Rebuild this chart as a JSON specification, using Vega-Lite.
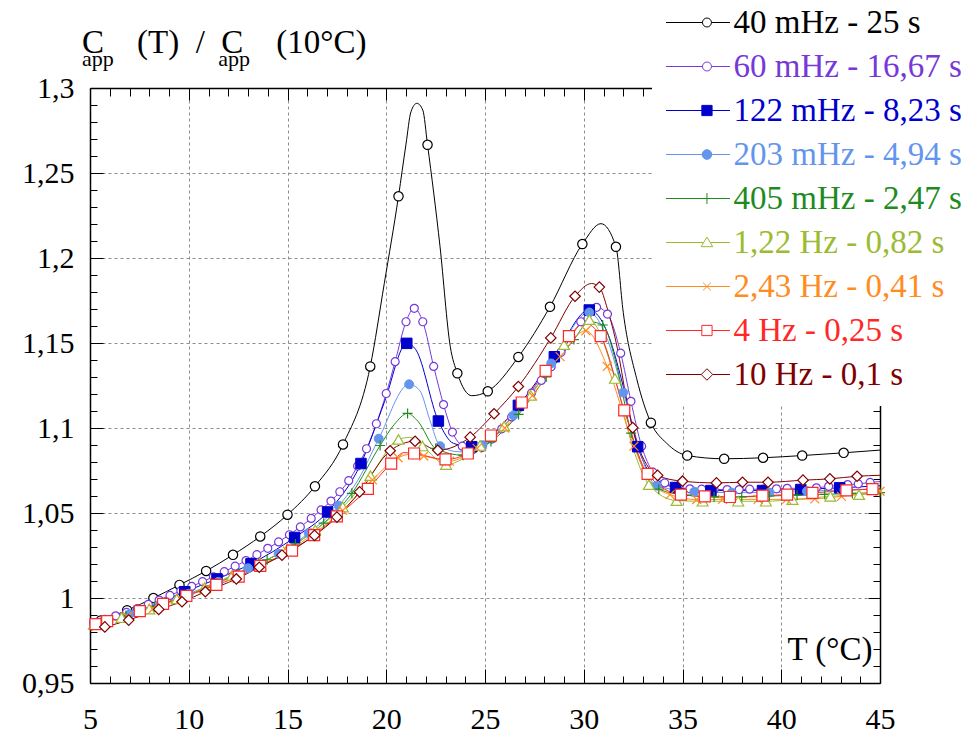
{
"$schema": "https://vega.github.io/schema/vega-lite/v6.json",
"width": 790, "height": 595,
"autosize": {"type": "none"},
"padding": {"left": 90, "top": 88, "right": 88, "bottom": 55},
"background": "white",
"config": {"view": {"stroke": null}, "font": "Liberation Serif", "legend": {"labelFont": "Liberation Serif"}},
"title": {
 "text": "C\u00a0\u00a0\u00a0\u00a0(T)\u00a0\u00a0/\u00a0\u00a0C\u00a0\u00a0\u00a0\u00a0(10°C)",
 "subtitle": "\u00a0\u00a0\u00a0\u00a0app\u00a0\u00a0\u00a0\u00a0\u00a0\u00a0\u00a0\u00a0\u00a0\u00a0\u00a0\u00a0\u00a0\u00a0\u00a0\u00a0\u00a0\u00a0\u00a0app",
 "anchor": "start", "frame": "group", "dx": -8, "offset": -78,
 "font": "Liberation Serif", "fontSize": 33, "fontWeight": "normal", "color": "black",
 "subtitleFont": "Liberation Serif", "subtitleFontSize": 22, "subtitleColor": "black", "subtitlePadding": -11
},
"data": {"values": [
{"s":"40 mHz - 25 s","T":5.0,"v":0.9848,"m":0},
{"s":"40 mHz - 25 s","T":5.55,"v":0.9868,"m":1},
{"s":"40 mHz - 25 s","T":6.88,"v":0.9928,"m":1},
{"s":"40 mHz - 25 s","T":8.21,"v":1.0,"m":1},
{"s":"40 mHz - 25 s","T":9.53,"v":1.0077,"m":1},
{"s":"40 mHz - 25 s","T":10.88,"v":1.0159,"m":1},
{"s":"40 mHz - 25 s","T":12.24,"v":1.0254,"m":1},
{"s":"40 mHz - 25 s","T":13.62,"v":1.0362,"m":1},
{"s":"40 mHz - 25 s","T":15.0,"v":1.049,"m":1},
{"s":"40 mHz - 25 s","T":16.39,"v":1.0657,"m":1},
{"s":"40 mHz - 25 s","T":17.81,"v":1.0903,"m":1},
{"s":"40 mHz - 25 s","T":19.19,"v":1.1362,"m":1},
{"s":"40 mHz - 25 s","T":19.9,"v":1.185,"m":0},
{"s":"40 mHz - 25 s","T":20.62,"v":1.2363,"m":1},
{"s":"40 mHz - 25 s","T":21.0,"v":1.267,"m":0},
{"s":"40 mHz - 25 s","T":21.25,"v":1.286,"m":0},
{"s":"40 mHz - 25 s","T":21.55,"v":1.291,"m":0},
{"s":"40 mHz - 25 s","T":21.85,"v":1.287,"m":0},
{"s":"40 mHz - 25 s","T":22.09,"v":1.2666,"m":1},
{"s":"40 mHz - 25 s","T":22.72,"v":1.207,"m":0},
{"s":"40 mHz - 25 s","T":23.24,"v":1.148,"m":0},
{"s":"40 mHz - 25 s","T":23.6,"v":1.1322,"m":1},
{"s":"40 mHz - 25 s","T":24.33,"v":1.119,"m":0},
{"s":"40 mHz - 25 s","T":25.14,"v":1.1216,"m":1},
{"s":"40 mHz - 25 s","T":26.69,"v":1.1418,"m":1},
{"s":"40 mHz - 25 s","T":28.29,"v":1.1713,"m":1},
{"s":"40 mHz - 25 s","T":29.93,"v":1.2082,"m":1},
{"s":"40 mHz - 25 s","T":30.87,"v":1.2202,"m":0},
{"s":"40 mHz - 25 s","T":31.63,"v":1.2066,"m":1},
{"s":"40 mHz - 25 s","T":32.0,"v":1.168,"m":0},
{"s":"40 mHz - 25 s","T":32.68,"v":1.129,"m":0},
{"s":"40 mHz - 25 s","T":33.4,"v":1.1031,"m":1},
{"s":"40 mHz - 25 s","T":34.2,"v":1.091,"m":0},
{"s":"40 mHz - 25 s","T":35.24,"v":1.0838,"m":1},
{"s":"40 mHz - 25 s","T":37.11,"v":1.0819,"m":1},
{"s":"40 mHz - 25 s","T":39.08,"v":1.0825,"m":1},
{"s":"40 mHz - 25 s","T":41.06,"v":1.0838,"m":1},
{"s":"40 mHz - 25 s","T":43.16,"v":1.0854,"m":1},
{"s":"40 mHz - 25 s","T":45.0,"v":1.087,"m":0},

{"s":"60 mHz - 16,67 s","T":5.0,"v":0.9848,"m":0},
{"s":"60 mHz - 16,67 s","T":5.2,"v":0.9855,"m":1},
{"s":"60 mHz - 16,67 s","T":5.75,"v":0.9875,"m":1},
{"s":"60 mHz - 16,67 s","T":6.3,"v":0.9895,"m":1},
{"s":"60 mHz - 16,67 s","T":6.85,"v":0.9915,"m":1},
{"s":"60 mHz - 16,67 s","T":7.4,"v":0.9938,"m":1},
{"s":"60 mHz - 16,67 s","T":7.95,"v":0.9962,"m":1},
{"s":"60 mHz - 16,67 s","T":8.5,"v":0.9988,"m":1},
{"s":"60 mHz - 16,67 s","T":9.05,"v":1.0015,"m":1},
{"s":"60 mHz - 16,67 s","T":9.6,"v":1.0042,"m":1},
{"s":"60 mHz - 16,67 s","T":10.15,"v":1.0068,"m":1},
{"s":"60 mHz - 16,67 s","T":10.7,"v":1.0096,"m":1},
{"s":"60 mHz - 16,67 s","T":11.25,"v":1.0125,"m":1},
{"s":"60 mHz - 16,67 s","T":11.8,"v":1.0155,"m":1},
{"s":"60 mHz - 16,67 s","T":12.35,"v":1.0187,"m":1},
{"s":"60 mHz - 16,67 s","T":12.9,"v":1.022,"m":1},
{"s":"60 mHz - 16,67 s","T":13.45,"v":1.0255,"m":1},
{"s":"60 mHz - 16,67 s","T":14.0,"v":1.0292,"m":1},
{"s":"60 mHz - 16,67 s","T":14.55,"v":1.033,"m":1},
{"s":"60 mHz - 16,67 s","T":15.1,"v":1.0372,"m":1},
{"s":"60 mHz - 16,67 s","T":15.65,"v":1.0418,"m":1},
{"s":"60 mHz - 16,67 s","T":16.2,"v":1.0468,"m":1},
{"s":"60 mHz - 16,67 s","T":16.7,"v":1.0518,"m":1},
{"s":"60 mHz - 16,67 s","T":17.2,"v":1.057,"m":1},
{"s":"60 mHz - 16,67 s","T":17.65,"v":1.0625,"m":1},
{"s":"60 mHz - 16,67 s","T":18.1,"v":1.069,"m":1},
{"s":"60 mHz - 16,67 s","T":18.55,"v":1.0776,"m":1},
{"s":"60 mHz - 16,67 s","T":19.0,"v":1.0878,"m":1},
{"s":"60 mHz - 16,67 s","T":19.5,"v":1.1025,"m":1},
{"s":"60 mHz - 16,67 s","T":20.0,"v":1.1203,"m":1},
{"s":"60 mHz - 16,67 s","T":20.45,"v":1.139,"m":1},
{"s":"60 mHz - 16,67 s","T":21.0,"v":1.1625,"m":1},
{"s":"60 mHz - 16,67 s","T":21.42,"v":1.1704,"m":1},
{"s":"60 mHz - 16,67 s","T":21.85,"v":1.1625,"m":1},
{"s":"60 mHz - 16,67 s","T":22.4,"v":1.1362,"m":1},
{"s":"60 mHz - 16,67 s","T":22.9,"v":1.1138,"m":1},
{"s":"60 mHz - 16,67 s","T":23.35,"v":1.0976,"m":1},
{"s":"60 mHz - 16,67 s","T":23.85,"v":1.0893,"m":1},
{"s":"60 mHz - 16,67 s","T":24.35,"v":1.087,"m":1},
{"s":"60 mHz - 16,67 s","T":24.85,"v":1.0885,"m":1},
{"s":"60 mHz - 16,67 s","T":25.35,"v":1.0935,"m":1},
{"s":"60 mHz - 16,67 s","T":25.85,"v":1.0995,"m":1},
{"s":"60 mHz - 16,67 s","T":26.35,"v":1.1065,"m":1},
{"s":"60 mHz - 16,67 s","T":26.85,"v":1.1135,"m":1},
{"s":"60 mHz - 16,67 s","T":27.35,"v":1.1205,"m":1},
{"s":"60 mHz - 16,67 s","T":27.85,"v":1.128,"m":1},
{"s":"60 mHz - 16,67 s","T":28.35,"v":1.136,"m":1},
{"s":"60 mHz - 16,67 s","T":28.85,"v":1.1445,"m":1},
{"s":"60 mHz - 16,67 s","T":29.35,"v":1.1535,"m":1},
{"s":"60 mHz - 16,67 s","T":29.85,"v":1.1625,"m":1},
{"s":"60 mHz - 16,67 s","T":30.3,"v":1.169,"m":1},
{"s":"60 mHz - 16,67 s","T":30.65,"v":1.171,"m":1},
{"s":"60 mHz - 16,67 s","T":31.2,"v":1.167,"m":1},
{"s":"60 mHz - 16,67 s","T":31.87,"v":1.144,"m":1},
{"s":"60 mHz - 16,67 s","T":32.39,"v":1.1157,"m":1},
{"s":"60 mHz - 16,67 s","T":32.93,"v":1.0893,"m":1},
{"s":"60 mHz - 16,67 s","T":33.5,"v":1.074,"m":1},
{"s":"60 mHz - 16,67 s","T":34.1,"v":1.0677,"m":1},
{"s":"60 mHz - 16,67 s","T":34.7,"v":1.0655,"m":1},
{"s":"60 mHz - 16,67 s","T":35.37,"v":1.0642,"m":1},
{"s":"60 mHz - 16,67 s","T":35.97,"v":1.064,"m":1},
{"s":"60 mHz - 16,67 s","T":36.6,"v":1.0638,"m":1},
{"s":"60 mHz - 16,67 s","T":37.26,"v":1.0638,"m":1},
{"s":"60 mHz - 16,67 s","T":37.87,"v":1.0638,"m":1},
{"s":"60 mHz - 16,67 s","T":38.4,"v":1.064,"m":1},
{"s":"60 mHz - 16,67 s","T":39.1,"v":1.064,"m":1},
{"s":"60 mHz - 16,67 s","T":39.76,"v":1.0642,"m":1},
{"s":"60 mHz - 16,67 s","T":40.3,"v":1.0645,"m":1},
{"s":"60 mHz - 16,67 s","T":41.0,"v":1.0646,"m":1},
{"s":"60 mHz - 16,67 s","T":41.78,"v":1.0648,"m":1},
{"s":"60 mHz - 16,67 s","T":42.4,"v":1.0657,"m":1},
{"s":"60 mHz - 16,67 s","T":43.36,"v":1.0667,"m":1},
{"s":"60 mHz - 16,67 s","T":43.9,"v":1.0671,"m":1},
{"s":"60 mHz - 16,67 s","T":44.5,"v":1.068,"m":1},
{"s":"60 mHz - 16,67 s","T":45.0,"v":1.0685,"m":0},

{"s":"122 mHz - 8,23 s","T":5.0,"v":0.9838,"m":0},
{"s":"122 mHz - 8,23 s","T":5.28,"v":0.9846,"m":1},
{"s":"122 mHz - 8,23 s","T":7.52,"v":0.9925,"m":1},
{"s":"122 mHz - 8,23 s","T":9.8,"v":1.0037,"m":1},
{"s":"122 mHz - 8,23 s","T":11.43,"v":1.0112,"m":1},
{"s":"122 mHz - 8,23 s","T":13.15,"v":1.0201,"m":1},
{"s":"122 mHz - 8,23 s","T":15.36,"v":1.0356,"m":1},
{"s":"122 mHz - 8,23 s","T":17.03,"v":1.0506,"m":1},
{"s":"122 mHz - 8,23 s","T":18.72,"v":1.0791,"m":1},
{"s":"122 mHz - 8,23 s","T":19.9,"v":1.115,"m":0},
{"s":"122 mHz - 8,23 s","T":21.04,"v":1.1498,"m":1},
{"s":"122 mHz - 8,23 s","T":21.5,"v":1.146,"m":0},
{"s":"122 mHz - 8,23 s","T":22.64,"v":1.1041,"m":1},
{"s":"122 mHz - 8,23 s","T":23.4,"v":1.091,"m":0},
{"s":"122 mHz - 8,23 s","T":24.33,"v":1.089,"m":1},
{"s":"122 mHz - 8,23 s","T":26.69,"v":1.1133,"m":1},
{"s":"122 mHz - 8,23 s","T":28.51,"v":1.1419,"m":1},
{"s":"122 mHz - 8,23 s","T":30.28,"v":1.1694,"m":1},
{"s":"122 mHz - 8,23 s","T":31.3,"v":1.153,"m":0},
{"s":"122 mHz - 8,23 s","T":31.9,"v":1.129,"m":0},
{"s":"122 mHz - 8,23 s","T":32.73,"v":1.089,"m":1},
{"s":"122 mHz - 8,23 s","T":33.4,"v":1.073,"m":0},
{"s":"122 mHz - 8,23 s","T":34.65,"v":1.065,"m":1},
{"s":"122 mHz - 8,23 s","T":36.44,"v":1.0632,"m":1},
{"s":"122 mHz - 8,23 s","T":39.05,"v":1.0632,"m":1},
{"s":"122 mHz - 8,23 s","T":40.99,"v":1.0638,"m":1},
{"s":"122 mHz - 8,23 s","T":42.96,"v":1.0648,"m":1},
{"s":"122 mHz - 8,23 s","T":45.0,"v":1.066,"m":0},

{"s":"203 mHz - 4,94 s","T":5.0,"v":0.9842,"m":0},
{"s":"203 mHz - 4,94 s","T":5.5,"v":0.9855,"m":1},
{"s":"203 mHz - 4,94 s","T":7.0,"v":0.9905,"m":1},
{"s":"203 mHz - 4,94 s","T":8.5,"v":0.996,"m":1},
{"s":"203 mHz - 4,94 s","T":10.0,"v":1.0025,"m":1},
{"s":"203 mHz - 4,94 s","T":11.5,"v":1.0095,"m":1},
{"s":"203 mHz - 4,94 s","T":13.0,"v":1.0175,"m":1},
{"s":"203 mHz - 4,94 s","T":14.55,"v":1.026,"m":1},
{"s":"203 mHz - 4,94 s","T":16.07,"v":1.0382,"m":1},
{"s":"203 mHz - 4,94 s","T":17.59,"v":1.0543,"m":1},
{"s":"203 mHz - 4,94 s","T":18.6,"v":1.07,"m":0},
{"s":"203 mHz - 4,94 s","T":19.62,"v":1.0937,"m":1},
{"s":"203 mHz - 4,94 s","T":21.16,"v":1.1257,"m":1},
{"s":"203 mHz - 4,94 s","T":21.7,"v":1.122,"m":0},
{"s":"203 mHz - 4,94 s","T":22.2,"v":1.105,"m":0},
{"s":"203 mHz - 4,94 s","T":22.73,"v":1.0893,"m":1},
{"s":"203 mHz - 4,94 s","T":23.7,"v":1.086,"m":0},
{"s":"203 mHz - 4,94 s","T":24.87,"v":1.0899,"m":1},
{"s":"203 mHz - 4,94 s","T":26.44,"v":1.1074,"m":1},
{"s":"203 mHz - 4,94 s","T":28.35,"v":1.138,"m":1},
{"s":"203 mHz - 4,94 s","T":30.28,"v":1.168,"m":1},
{"s":"203 mHz - 4,94 s","T":31.2,"v":1.152,"m":0},
{"s":"203 mHz - 4,94 s","T":32.0,"v":1.1209,"m":1},
{"s":"203 mHz - 4,94 s","T":33.69,"v":1.0661,"m":1},
{"s":"203 mHz - 4,94 s","T":35.6,"v":1.0625,"m":1},
{"s":"203 mHz - 4,94 s","T":37.5,"v":1.062,"m":1},
{"s":"203 mHz - 4,94 s","T":39.4,"v":1.062,"m":1},
{"s":"203 mHz - 4,94 s","T":41.3,"v":1.0628,"m":1},
{"s":"203 mHz - 4,94 s","T":43.2,"v":1.0636,"m":1},
{"s":"203 mHz - 4,94 s","T":45.0,"v":1.0642,"m":0},

{"s":"405 mHz - 2,47 s","T":5.0,"v":0.984,"m":0},
{"s":"405 mHz - 2,47 s","T":5.39,"v":0.985,"m":1},
{"s":"405 mHz - 2,47 s","T":6.82,"v":0.9895,"m":1},
{"s":"405 mHz - 2,47 s","T":8.25,"v":0.9948,"m":1},
{"s":"405 mHz - 2,47 s","T":9.68,"v":1.0008,"m":1},
{"s":"405 mHz - 2,47 s","T":11.11,"v":1.0072,"m":1},
{"s":"405 mHz - 2,47 s","T":12.54,"v":1.0145,"m":1},
{"s":"405 mHz - 2,47 s","T":13.97,"v":1.0225,"m":1},
{"s":"405 mHz - 2,47 s","T":15.4,"v":1.0318,"m":1},
{"s":"405 mHz - 2,47 s","T":16.83,"v":1.044,"m":1},
{"s":"405 mHz - 2,47 s","T":18.26,"v":1.0616,"m":1},
{"s":"405 mHz - 2,47 s","T":19.69,"v":1.0897,"m":1},
{"s":"405 mHz - 2,47 s","T":20.4,"v":1.102,"m":0},
{"s":"405 mHz - 2,47 s","T":21.08,"v":1.1086,"m":1},
{"s":"405 mHz - 2,47 s","T":21.6,"v":1.104,"m":0},
{"s":"405 mHz - 2,47 s","T":22.5,"v":1.088,"m":1},
{"s":"405 mHz - 2,47 s","T":23.9,"v":1.084,"m":1},
{"s":"405 mHz - 2,47 s","T":25.3,"v":1.092,"m":1},
{"s":"405 mHz - 2,47 s","T":26.7,"v":1.108,"m":1},
{"s":"405 mHz - 2,47 s","T":28.1,"v":1.13,"m":1},
{"s":"405 mHz - 2,47 s","T":29.5,"v":1.152,"m":1},
{"s":"405 mHz - 2,47 s","T":30.3,"v":1.1625,"m":0},
{"s":"405 mHz - 2,47 s","T":30.96,"v":1.1606,"m":1},
{"s":"405 mHz - 2,47 s","T":31.6,"v":1.14,"m":0},
{"s":"405 mHz - 2,47 s","T":32.4,"v":1.097,"m":1},
{"s":"405 mHz - 2,47 s","T":33.8,"v":1.064,"m":1},
{"s":"405 mHz - 2,47 s","T":35.2,"v":1.0605,"m":1},
{"s":"405 mHz - 2,47 s","T":36.6,"v":1.0595,"m":1},
{"s":"405 mHz - 2,47 s","T":38.0,"v":1.0595,"m":1},
{"s":"405 mHz - 2,47 s","T":39.4,"v":1.06,"m":1},
{"s":"405 mHz - 2,47 s","T":40.8,"v":1.0605,"m":1},
{"s":"405 mHz - 2,47 s","T":42.2,"v":1.061,"m":1},
{"s":"405 mHz - 2,47 s","T":43.6,"v":1.0615,"m":1},
{"s":"405 mHz - 2,47 s","T":45.0,"v":1.062,"m":1},

{"s":"1,22 Hz - 0,82 s","T":5.0,"v":0.9838,"m":0},
{"s":"1,22 Hz - 0,82 s","T":5.2,"v":0.9845,"m":1},
{"s":"1,22 Hz - 0,82 s","T":6.6,"v":0.9885,"m":1},
{"s":"1,22 Hz - 0,82 s","T":8.0,"v":0.9935,"m":1},
{"s":"1,22 Hz - 0,82 s","T":9.4,"v":0.9995,"m":1},
{"s":"1,22 Hz - 0,82 s","T":10.8,"v":1.006,"m":1},
{"s":"1,22 Hz - 0,82 s","T":12.2,"v":1.0133,"m":1},
{"s":"1,22 Hz - 0,82 s","T":13.6,"v":1.0205,"m":1},
{"s":"1,22 Hz - 0,82 s","T":15.0,"v":1.029,"m":1},
{"s":"1,22 Hz - 0,82 s","T":16.4,"v":1.04,"m":1},
{"s":"1,22 Hz - 0,82 s","T":17.8,"v":1.0535,"m":1},
{"s":"1,22 Hz - 0,82 s","T":19.2,"v":1.072,"m":1},
{"s":"1,22 Hz - 0,82 s","T":20.62,"v":1.0933,"m":1},
{"s":"1,22 Hz - 0,82 s","T":21.2,"v":1.0945,"m":0},
{"s":"1,22 Hz - 0,82 s","T":21.83,"v":1.0894,"m":1},
{"s":"1,22 Hz - 0,82 s","T":23.03,"v":1.0785,"m":1},
{"s":"1,22 Hz - 0,82 s","T":23.9,"v":1.082,"m":0},
{"s":"1,22 Hz - 0,82 s","T":24.75,"v":1.0897,"m":1},
{"s":"1,22 Hz - 0,82 s","T":25.97,"v":1.1011,"m":1},
{"s":"1,22 Hz - 0,82 s","T":27.32,"v":1.1192,"m":1},
{"s":"1,22 Hz - 0,82 s","T":29.0,"v":1.149,"m":1},
{"s":"1,22 Hz - 0,82 s","T":30.28,"v":1.1637,"m":1},
{"s":"1,22 Hz - 0,82 s","T":31.58,"v":1.1291,"m":1},
{"s":"1,22 Hz - 0,82 s","T":32.5,"v":1.088,"m":0},
{"s":"1,22 Hz - 0,82 s","T":33.3,"v":1.0667,"m":1},
{"s":"1,22 Hz - 0,82 s","T":34.7,"v":1.0573,"m":1},
{"s":"1,22 Hz - 0,82 s","T":36.02,"v":1.0569,"m":1},
{"s":"1,22 Hz - 0,82 s","T":37.82,"v":1.0569,"m":1},
{"s":"1,22 Hz - 0,82 s","T":39.22,"v":1.0569,"m":1},
{"s":"1,22 Hz - 0,82 s","T":40.57,"v":1.0579,"m":1},
{"s":"1,22 Hz - 0,82 s","T":42.49,"v":1.0598,"m":1},
{"s":"1,22 Hz - 0,82 s","T":43.94,"v":1.0608,"m":1},
{"s":"1,22 Hz - 0,82 s","T":45.0,"v":1.0615,"m":0},

{"s":"2,43 Hz - 0,41 s","T":5.0,"v":0.9838,"m":0},
{"s":"2,43 Hz - 0,41 s","T":5.5,"v":0.9848,"m":1},
{"s":"2,43 Hz - 0,41 s","T":6.9,"v":0.989,"m":1},
{"s":"2,43 Hz - 0,41 s","T":8.2,"v":0.9938,"m":1},
{"s":"2,43 Hz - 0,41 s","T":9.6,"v":0.9995,"m":1},
{"s":"2,43 Hz - 0,41 s","T":10.9,"v":1.0058,"m":1},
{"s":"2,43 Hz - 0,41 s","T":12.3,"v":1.0128,"m":1},
{"s":"2,43 Hz - 0,41 s","T":13.7,"v":1.0195,"m":1},
{"s":"2,43 Hz - 0,41 s","T":15.0,"v":1.0275,"m":1},
{"s":"2,43 Hz - 0,41 s","T":16.4,"v":1.0385,"m":1},
{"s":"2,43 Hz - 0,41 s","T":17.8,"v":1.0515,"m":1},
{"s":"2,43 Hz - 0,41 s","T":19.3,"v":1.0695,"m":1},
{"s":"2,43 Hz - 0,41 s","T":20.6,"v":1.0825,"m":1},
{"s":"2,43 Hz - 0,41 s","T":21.2,"v":1.0845,"m":0},
{"s":"2,43 Hz - 0,41 s","T":21.9,"v":1.0835,"m":1},
{"s":"2,43 Hz - 0,41 s","T":23.2,"v":1.0805,"m":1},
{"s":"2,43 Hz - 0,41 s","T":24.6,"v":1.088,"m":1},
{"s":"2,43 Hz - 0,41 s","T":26.0,"v":1.1,"m":1},
{"s":"2,43 Hz - 0,41 s","T":27.4,"v":1.119,"m":1},
{"s":"2,43 Hz - 0,41 s","T":28.8,"v":1.142,"m":1},
{"s":"2,43 Hz - 0,41 s","T":30.11,"v":1.1572,"m":1},
{"s":"2,43 Hz - 0,41 s","T":31.19,"v":1.1362,"m":1},
{"s":"2,43 Hz - 0,41 s","T":32.54,"v":1.0893,"m":1},
{"s":"2,43 Hz - 0,41 s","T":33.4,"v":1.068,"m":0},
{"s":"2,43 Hz - 0,41 s","T":34.37,"v":1.0608,"m":1},
{"s":"2,43 Hz - 0,41 s","T":35.72,"v":1.0579,"m":1},
{"s":"2,43 Hz - 0,41 s","T":37.03,"v":1.058,"m":1},
{"s":"2,43 Hz - 0,41 s","T":38.83,"v":1.058,"m":1},
{"s":"2,43 Hz - 0,41 s","T":40.27,"v":1.058,"m":1},
{"s":"2,43 Hz - 0,41 s","T":41.7,"v":1.0583,"m":1},
{"s":"2,43 Hz - 0,41 s","T":43.05,"v":1.0598,"m":1},
{"s":"2,43 Hz - 0,41 s","T":45.0,"v":1.0628,"m":1},

{"s":"4 Hz - 0,25 s","T":5.0,"v":0.9836,"m":0},
{"s":"4 Hz - 0,25 s","T":5.28,"v":0.9846,"m":1},
{"s":"4 Hz - 0,25 s","T":5.87,"v":0.9864,"m":1},
{"s":"4 Hz - 0,25 s","T":7.52,"v":0.9923,"m":1},
{"s":"4 Hz - 0,25 s","T":8.7,"v":0.9965,"m":1},
{"s":"4 Hz - 0,25 s","T":9.88,"v":1.0012,"m":1},
{"s":"4 Hz - 0,25 s","T":11.4,"v":1.0077,"m":1},
{"s":"4 Hz - 0,25 s","T":12.53,"v":1.0126,"m":1},
{"s":"4 Hz - 0,25 s","T":13.62,"v":1.0189,"m":1},
{"s":"4 Hz - 0,25 s","T":15.23,"v":1.0279,"m":1},
{"s":"4 Hz - 0,25 s","T":16.35,"v":1.037,"m":1},
{"s":"4 Hz - 0,25 s","T":17.5,"v":1.048,"m":1},
{"s":"4 Hz - 0,25 s","T":19.07,"v":1.0642,"m":1},
{"s":"4 Hz - 0,25 s","T":20.25,"v":1.0791,"m":1},
{"s":"4 Hz - 0,25 s","T":20.9,"v":1.0855,"m":0},
{"s":"4 Hz - 0,25 s","T":21.41,"v":1.085,"m":1},
{"s":"4 Hz - 0,25 s","T":23.0,"v":1.0815,"m":1},
{"s":"4 Hz - 0,25 s","T":24.13,"v":1.085,"m":1},
{"s":"4 Hz - 0,25 s","T":25.3,"v":1.0956,"m":1},
{"s":"4 Hz - 0,25 s","T":26.86,"v":1.115,"m":1},
{"s":"4 Hz - 0,25 s","T":28.07,"v":1.1336,"m":1},
{"s":"4 Hz - 0,25 s","T":29.25,"v":1.154,"m":1},
{"s":"4 Hz - 0,25 s","T":30.05,"v":1.1615,"m":0},
{"s":"4 Hz - 0,25 s","T":30.86,"v":1.154,"m":1},
{"s":"4 Hz - 0,25 s","T":32.05,"v":1.1104,"m":1},
{"s":"4 Hz - 0,25 s","T":33.23,"v":1.073,"m":1},
{"s":"4 Hz - 0,25 s","T":34.92,"v":1.0608,"m":1},
{"s":"4 Hz - 0,25 s","T":36.13,"v":1.0598,"m":1},
{"s":"4 Hz - 0,25 s","T":37.4,"v":1.0594,"m":1},
{"s":"4 Hz - 0,25 s","T":39.05,"v":1.0602,"m":1},
{"s":"4 Hz - 0,25 s","T":40.3,"v":1.0608,"m":1},
{"s":"4 Hz - 0,25 s","T":41.58,"v":1.0618,"m":1},
{"s":"4 Hz - 0,25 s","T":43.3,"v":1.0633,"m":1},
{"s":"4 Hz - 0,25 s","T":44.62,"v":1.0641,"m":1},
{"s":"4 Hz - 0,25 s","T":45.0,"v":1.0643,"m":0},

{"s":"10 Hz - 0,1 s","T":5.0,"v":0.981,"m":0},
{"s":"10 Hz - 0,1 s","T":5.75,"v":0.983,"m":1},
{"s":"10 Hz - 0,1 s","T":6.96,"v":0.987,"m":1},
{"s":"10 Hz - 0,1 s","T":8.48,"v":0.9933,"m":1},
{"s":"10 Hz - 0,1 s","T":9.66,"v":0.9978,"m":1},
{"s":"10 Hz - 0,1 s","T":10.84,"v":1.0037,"m":1},
{"s":"10 Hz - 0,1 s","T":12.41,"v":1.0112,"m":1},
{"s":"10 Hz - 0,1 s","T":13.57,"v":1.0181,"m":1},
{"s":"10 Hz - 0,1 s","T":14.72,"v":1.0252,"m":1},
{"s":"10 Hz - 0,1 s","T":16.37,"v":1.0368,"m":1},
{"s":"10 Hz - 0,1 s","T":17.5,"v":1.0476,"m":1},
{"s":"10 Hz - 0,1 s","T":18.65,"v":1.0624,"m":1},
{"s":"10 Hz - 0,1 s","T":20.2,"v":1.0866,"m":1},
{"s":"10 Hz - 0,1 s","T":21.46,"v":1.0922,"m":1},
{"s":"10 Hz - 0,1 s","T":22.61,"v":1.0869,"m":1},
{"s":"10 Hz - 0,1 s","T":24.25,"v":1.0946,"m":1},
{"s":"10 Hz - 0,1 s","T":25.46,"v":1.1084,"m":1},
{"s":"10 Hz - 0,1 s","T":26.69,"v":1.1244,"m":1},
{"s":"10 Hz - 0,1 s","T":28.33,"v":1.153,"m":1},
{"s":"10 Hz - 0,1 s","T":29.56,"v":1.1775,"m":1},
{"s":"10 Hz - 0,1 s","T":30.4,"v":1.185,"m":0},
{"s":"10 Hz - 0,1 s","T":30.79,"v":1.1829,"m":1},
{"s":"10 Hz - 0,1 s","T":31.2,"v":1.17,"m":0},
{"s":"10 Hz - 0,1 s","T":31.7,"v":1.147,"m":0},
{"s":"10 Hz - 0,1 s","T":32.15,"v":1.118,"m":0},
{"s":"10 Hz - 0,1 s","T":32.48,"v":1.1002,"m":1},
{"s":"10 Hz - 0,1 s","T":33.74,"v":1.0721,"m":1},
{"s":"10 Hz - 0,1 s","T":35.0,"v":1.0687,"m":1},
{"s":"10 Hz - 0,1 s","T":36.72,"v":1.0677,"m":1},
{"s":"10 Hz - 0,1 s","T":38.04,"v":1.0681,"m":1},
{"s":"10 Hz - 0,1 s","T":39.33,"v":1.0681,"m":1},
{"s":"10 Hz - 0,1 s","T":41.1,"v":1.0693,"m":1},
{"s":"10 Hz - 0,1 s","T":42.46,"v":1.0701,"m":1},
{"s":"10 Hz - 0,1 s","T":43.84,"v":1.0716,"m":1},
{"s":"10 Hz - 0,1 s","T":45.0,"v":1.0722,"m":0}
]},
"layer": [
{
 "mark": {"type": "line", "interpolate": "monotone", "strokeWidth": 1},
 "encoding": {
  "x": {"field": "T", "type": "quantitative",
   "scale": {"domain": [5, 45], "nice": false, "zero": false},
   "axis": {
    "orient": "bottom", "title": "T (°C)",
    "values": [5,6,7,8,9,10,11,12,13,14,15,16,17,18,19,20,21,22,23,24,25,26,27,28,29,30,31,32,33,34,35,36,37,38,39,40,41,42,43,44,45],
    "domain": true, "domainColor": "black", "domainWidth": 1.5,
    "ticks": true, "tickColor": "black", "tickWidth": 1,
    "tickSize": {"condition": {"test": "datum.value % 5 == 0", "value": -14}, "value": -7},
    "labelExpr": "datum.value % 5 == 0 ? datum.label : ''",
    "labelFont": "Liberation Serif", "labelFontSize": 30, "labelColor": "black", "labelPadding": 35,
    "labelFlush": false, "labelOverlap": false,
    "grid": true, "gridColor": "#8c8c8c", "gridDash": [3, 3], "gridWidth": 1,
    "gridOpacity": {"condition": {"test": "datum.value % 5 == 0 && datum.value > 5 && datum.value < 45", "value": 1}, "value": 0},
    "titleFont": "Liberation Serif", "titleFontSize": 33, "titleFontWeight": "normal", "titleColor": "black",
    "titleX": 782, "titleY": -24, "titleAlign": "right", "titleBaseline": "alphabetic", "titleAnchor": null
   }
  },
  "y": {"field": "v", "type": "quantitative",
   "scale": {"domain": [0.95, 1.3], "nice": false, "zero": false},
   "axis": {
    "orient": "left", "title": null,
    "values": [0.95,0.96,0.97,0.98,0.99,1,1.01,1.02,1.03,1.04,1.05,1.06,1.07,1.08,1.09,1.1,1.11,1.12,1.13,1.14,1.15,1.16,1.17,1.18,1.19,1.2,1.21,1.22,1.23,1.24,1.25,1.26,1.27,1.28,1.29,1.3],
    "domain": true, "domainColor": "black", "domainWidth": 1.5,
    "ticks": true, "tickColor": "black", "tickWidth": 1,
    "tickSize": {"condition": {"test": "abs(round(datum.value*100) % 5) == 0", "value": -13}, "value": -7},
    "labelExpr": "abs(round(datum.value*100) % 5) == 0 ? replace(format(datum.value, '.2~f'), '.', ',') : ''",
    "labelFont": "Liberation Serif", "labelFontSize": 30, "labelColor": "black", "labelPadding": 29,
    "labelFlush": false, "labelOverlap": false,
    "grid": true, "gridColor": "#8c8c8c", "gridDash": [3, 3], "gridWidth": 1,
    "gridOpacity": {"condition": {"test": "abs(round(datum.value*100) % 5) == 0 && datum.value > 0.96 && datum.value < 1.29", "value": 1}, "value": 0}
   }
  },
  "color": {"field": "s", "type": "nominal",
   "scale": {"domain": ["40 mHz - 25 s","60 mHz - 16,67 s","122 mHz - 8,23 s","203 mHz - 4,94 s","405 mHz - 2,47 s","1,22 Hz - 0,82 s","2,43 Hz - 0,41 s","4 Hz - 0,25 s","10 Hz - 0,1 s"],
    "range": ["#000000","#7638D8","#0000CD","#6495ED","#1E8B1E","#9BBB33","#FF8C1F","#FF2828","#800000"]},
   "legend": {
    "orient": "none", "legendX": 562, "legendY": -96, "title": null,
    "fillColor": "white", "padding": 14, "symbolSize": 1024, "rowPadding": 10,
    "labelFont": "Liberation Serif", "labelFontSize": 33, "labelOffset": 19, "symbolOffset": 15.5, "labelLimit": 0,
    "symbolStrokeWidth": 1,
    "encode": {
     "symbols": {"update": {
      "shape": {"signal": "['M-2,0H0.28M0.84,0H2M0.84,0A0.28,0.28,0,1,1,0.28,0A0.28,0.28,0,1,1,0.84,0Z','M-2,0H0.28M0.84,0H2M0.84,0A0.28,0.28,0,1,1,0.28,0A0.28,0.28,0,1,1,0.84,0Z','M-2,0H2M0.24,-0.32H0.88V0.32H0.24Z','M-2,0H2M0.86,0A0.3,0.3,0,1,1,0.26,0A0.3,0.3,0,1,1,0.86,0Z','M-2,0H2M0.56,-0.34V0.34','M-2,0H0.36M0.76,0H2M0.56,-0.34L0.92,0.26H0.2Z','M-2,0H2M0.32,-0.24L0.8,0.24M0.32,0.24L0.8,-0.24','M-2,0H0.24M0.88,0H2M0.24,-0.32H0.88V0.32H0.24Z','M-2,0H0.2M0.92,0H2M0.56,-0.36L0.92,0L0.56,0.36L0.2,0Z'][indexof(['40 mHz - 25 s','60 mHz - 16,67 s','122 mHz - 8,23 s','203 mHz - 4,94 s','405 mHz - 2,47 s','1,22 Hz - 0,82 s','2,43 Hz - 0,41 s','4 Hz - 0,25 s','10 Hz - 0,1 s'], datum.value)]"},
      "size": {"value": 1024},
      "fill": {"signal": "['white','white','#0000CD','#6495ED','white','white','white','white','white'][indexof(['40 mHz - 25 s','60 mHz - 16,67 s','122 mHz - 8,23 s','203 mHz - 4,94 s','405 mHz - 2,47 s','1,22 Hz - 0,82 s','2,43 Hz - 0,41 s','4 Hz - 0,25 s','10 Hz - 0,1 s'], datum.value)]"},
      "stroke": {"signal": "scale('color', datum.value)"},
      "strokeWidth": {"value": 1},
      "opacity": {"value": 1}
     }},
     "labels": {"update": {"fill": {"signal": "scale('color', datum.value)"}, "font": {"value": "Liberation Serif"}, "fontSize": {"value": 33}}}
    }
   }
  }
 }
},
{
 "transform": [{"filter": "datum.m == 1"}],
 "encoding": {
  "x": {"field": "T", "type": "quantitative",
   "axis": {
    "orient": "top", "title": null, "labels": false, "grid": false,
    "values": [5,6,7,8,9,10,11,12,13,14,15,16,17,18,19,20,21,22,23,24,25,26,27,28,29,30,31,32,33,34,35,36,37,38,39,40,41,42,43,44,45],
    "domain": true, "domainColor": "black", "domainWidth": 1.5,
    "ticks": true, "tickColor": "black", "tickWidth": 1,
    "tickSize": {"condition": {"test": "datum.value % 5 == 0", "value": -12}, "value": -8}
   }
  },
  "y": {"field": "v", "type": "quantitative",
   "axis": {
    "orient": "right", "title": null, "labels": false, "grid": false,
    "values": [0.95,0.96,0.97,0.98,0.99,1,1.01,1.02,1.03,1.04,1.05,1.06,1.07,1.08,1.09,1.1,1.11,1.12,1.13,1.14,1.15,1.16,1.17,1.18,1.19,1.2,1.21,1.22,1.23,1.24,1.25,1.26,1.27,1.28,1.29,1.3],
    "domain": true, "domainColor": "black", "domainWidth": 1.5,
    "ticks": true, "tickColor": "black", "tickWidth": 1,
    "tickSize": {"condition": {"test": "abs(round(datum.value*100) % 5) == 0", "value": -12}, "value": -7}
   }
  }
 },
 "layer": [
  {"transform": [{"filter": "datum.s == '40 mHz - 25 s'"}], "mark": {"type": "point", "shape": "circle", "size": 87, "filled": true, "fill": "white", "stroke": "#000000", "strokeWidth": 1.2, "opacity": 1}},
  {"transform": [{"filter": "datum.s == '60 mHz - 16,67 s'"}], "mark": {"type": "point", "shape": "circle", "size": 64, "filled": true, "fill": "white", "stroke": "#7638D8", "strokeWidth": 1.2, "opacity": 1}},
  {"transform": [{"filter": "datum.s == '122 mHz - 8,23 s'"}], "mark": {"type": "point", "shape": "square", "size": 110, "filled": true, "fill": "#0000CD", "stroke": "#0000CD", "strokeWidth": 1, "opacity": 1}},
  {"transform": [{"filter": "datum.s == '203 mHz - 4,94 s'"}], "mark": {"type": "point", "shape": "circle", "size": 80, "filled": true, "fill": "#6495ED", "stroke": "#6495ED", "strokeWidth": 1, "opacity": 1}},
  {"transform": [{"filter": "datum.s == '405 mHz - 2,47 s'"}], "mark": {"type": "point", "shape": "M-1,0H1M0,-1V1", "size": 100, "filled": false, "stroke": "#1E8B1E", "strokeWidth": 1.2, "opacity": 1}},
  {"transform": [{"filter": "datum.s == '1,22 Hz - 0,82 s'"}], "mark": {"type": "point", "shape": "triangle-up", "size": 120, "filled": true, "fill": "white", "stroke": "#9BBB33", "strokeWidth": 1.2, "opacity": 1}},
  {"transform": [{"filter": "datum.s == '2,43 Hz - 0,41 s'"}], "mark": {"type": "point", "shape": "M-1,-1L1,1M-1,1L1,-1", "size": 80, "filled": false, "stroke": "#FF8C1F", "strokeWidth": 1.2, "opacity": 1}},
  {"transform": [{"filter": "datum.s == '4 Hz - 0,25 s'"}], "mark": {"type": "point", "shape": "square", "size": 121, "filled": true, "fill": "white", "stroke": "#FF2828", "strokeWidth": 1.2, "opacity": 1}},
  {"transform": [{"filter": "datum.s == '10 Hz - 0,1 s'"}], "mark": {"type": "point", "shape": "diamond", "size": 110, "filled": true, "fill": "white", "stroke": "#800000", "strokeWidth": 1.2, "opacity": 1}}
 ]
}
],
"resolve": {"axis": {"x": "independent", "y": "independent"}}
}
